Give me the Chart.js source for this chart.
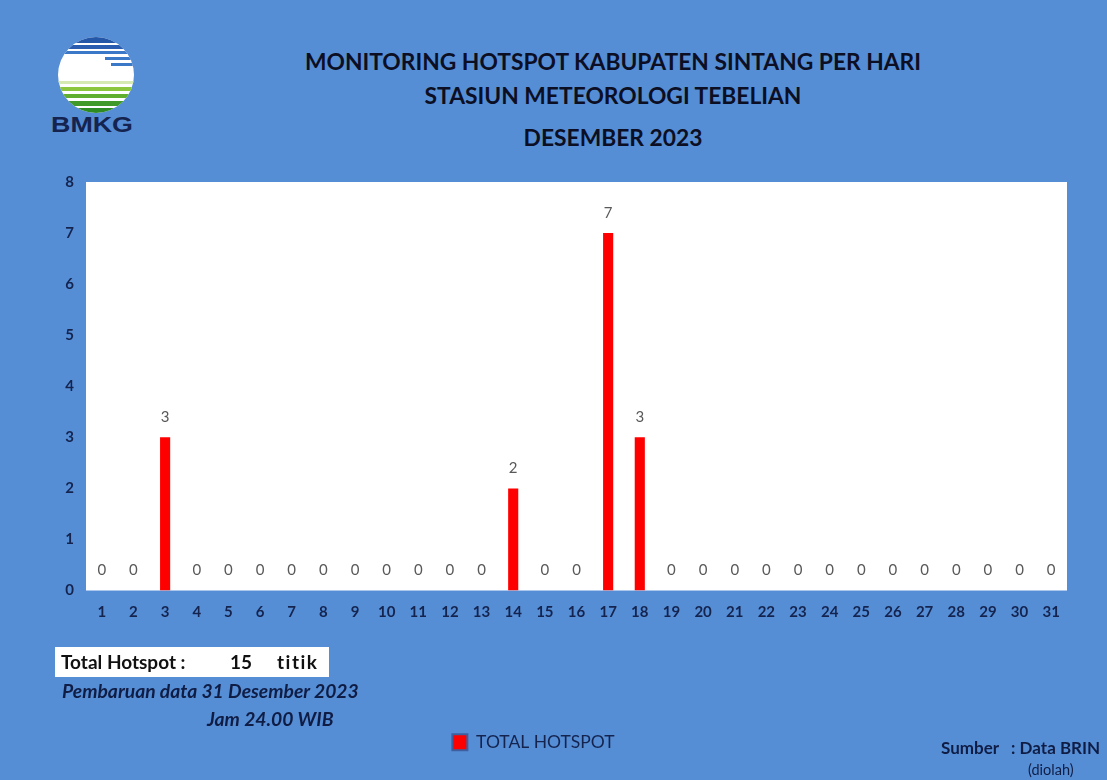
<!DOCTYPE html>
<html>
<head>
<meta charset="utf-8">
<script src="https://cdn.jsdelivr.net/npm/chart.js@4.4.0/dist/chart.umd.min.js"></script>
<style>
  html, body { margin: 0; padding: 0; }
  body { width: 1107px; height: 780px; background: #568ed6; position: relative; overflow: hidden; font-family: Lato, "Open Sans", sans-serif; }
  .abs { position: absolute; white-space: nowrap; }
  .title { left: 0; width: 1226px; text-align: center; font-weight: bold; font-size: 22.8px; color: #0c0f24; }
  #wrap { position: absolute; left: 0; top: 161px; width: 1107px; height: 620px; }
  #totalBox { left: 55px; top: 647px; width: 274px; height: 30px; background: #fff; font-weight: bold; font-size: 19px; color: #111; line-height: 30px; }
  #totalBox span { position: absolute; top: 0; }
  .note { font-style: italic; font-weight: bold; font-size: 19.3px; color: #0f1d45; }
</style>
</head>
<body>

<svg class="abs" style="left:57px;top:37px" width="78" height="77" viewBox="0 0 78 77">
  <defs><clipPath id="c"><circle cx="39" cy="38" r="38"/></clipPath></defs>
  <g clip-path="url(#c)">
    <rect x="0" y="0" width="78" height="77" fill="#ffffff"/>
    <rect x="0" y="0" width="78" height="6" fill="#2457a8"/>
    <rect x="0" y="8" width="78" height="4" fill="#2a5db0"/>
    <rect x="0" y="14" width="78" height="3" fill="#3b78c8"/>
    <rect x="48" y="20" width="30" height="3" fill="#3b78c8"/>
    <rect x="54" y="26" width="24" height="3" fill="#3b78c8"/>
    <rect x="0" y="44" width="78" height="3" fill="#d6e9b3"/>
    <rect x="0" y="50" width="78" height="4" fill="#8cc63f"/>
    <rect x="0" y="57" width="78" height="4" fill="#5fae2e"/>
    <rect x="0" y="64" width="78" height="5" fill="#3f9a2a"/>
    <rect x="0" y="71" width="78" height="6" fill="#2e8b24"/>
  </g>
</svg>
<div class="abs" style="left:51px;top:112px;font-family:'Liberation Sans',Arial,sans-serif;font-weight:bold;font-size:22px;color:#15234f;transform:scaleX(1.22);transform-origin:left top">BMKG</div>

<div class="abs title" style="top:47px">MONITORING HOTSPOT KABUPATEN SINTANG PER HARI</div>
<div class="abs title" style="top:81px">STASIUN METEOROLOGI TEBELIAN</div>
<div class="abs title" style="top:123px">DESEMBER 2023</div>

<div id="wrap"><canvas id="chart"></canvas></div>

<div class="abs" id="totalBox"><span style="left:6px">Total Hotspot :</span><span id="totalNum" style="left:175px"></span><span style="left:222px;letter-spacing:1.5px">titik</span></div>
<div class="abs note" style="left:62px;top:679px">Pembaruan data 31 Desember 2023</div>
<div class="abs note" style="left:207px;top:707px">Jam 24.00 WIB</div>
<div class="abs" style="left:941px;top:737px;font-weight:bold;font-size:17px;color:#0f1d45">Sumber&nbsp;&nbsp;&nbsp;: Data BRIN</div>
<div class="abs" style="left:1028px;top:761px;font-size:14.5px;color:#0f1d45">(diolah)</div>

<script>
const days = ['1','2','3','4','5','6','7','8','9','10','11','12','13','14','15','16','17','18','19','20','21','22','23','24','25','26','27','28','29','30','31'];
const hotspots = [0,0,3,0,0,0,0,0,0,0,0,0,0,2,0,0,7,3,0,0,0,0,0,0,0,0,0,0,0,0,0];
const yTicks = [0,1,2,3,4,5,6,7,8];

const total = hotspots.reduce((a, b) => a + b, 0);
document.getElementById('totalNum').textContent = total;

const axisColor = '#14244f';
const tickFont = { family: 'Lato, "Open Sans", sans-serif', size: 15, weight: 'bold' };

// nilai di atas batang
const valueLabels = {
  id: 'valueLabels',
  afterDatasetsDraw(chart) {
    const ctx = chart.ctx;
    const meta = chart.getDatasetMeta(0);
    ctx.save();
    ctx.fillStyle = '#595959';
    ctx.font = '15px Lato, "Open Sans", sans-serif';
    ctx.textAlign = 'center';
    ctx.textBaseline = 'middle';
    meta.data.forEach((bar, i) => {
      ctx.fillText(String(hotspots[i]), bar.x, bar.y - 20);
    });
    ctx.restore();
  }
};

// area plot putih
const plotBg = {
  id: 'plotBg',
  beforeDraw(chart) {
    const a = chart.chartArea;
    chart.ctx.save();
    chart.ctx.fillStyle = '#ffffff';
    chart.ctx.fillRect(a.left, a.top, a.right - a.left, a.bottom - a.top);
    chart.ctx.restore();
  }
};

new Chart(document.getElementById('chart'), {
  type: 'bar',
  data: {
    labels: days,
    datasets: [{
      label: 'TOTAL HOTSPOT',
      data: hotspots,
      backgroundColor: '#ff0000',
      borderWidth: 0,
      barPercentage: 0.32,
      categoryPercentage: 1
    }]
  },
  options: {
    responsive: true,
    maintainAspectRatio: false,
    animation: false,
    layout: { padding: { top: 12, right: 40, left: 0, bottom: 20 } },
    plugins: {
      legend: {
        position: 'bottom',
        labels: {
          color: axisColor,
          font: { family: 'Lato, "Open Sans", sans-serif', size: 17.5 },
          boxWidth: 15,
          boxHeight: 16,
          padding: 6,
          generateLabels: () => [{
            text: 'TOTAL HOTSPOT',
            fillStyle: '#ff0000',
            strokeStyle: '#3d5f9e',
            lineWidth: 2,
            fontColor: axisColor,
            datasetIndex: 0
          }]
        }
      },
      tooltip: { enabled: false }
    },
    scales: {
      x: {
        grid: { display: false, drawTicks: false },
        border: { display: false },
        ticks: { color: axisColor, font: tickFont, padding: 13, maxRotation: 0, autoSkip: false },
        afterFit: (s) => { s.height = 137; }
      },
      y: {
        min: 0,
        max: 8,
        afterBuildTicks: (s) => { s.ticks = yTicks.map(v => ({ value: v })); },
        grid: { display: false, drawTicks: false },
        border: { display: false },
        ticks: { color: axisColor, font: tickFont, padding: 12 },
        afterFit: (s) => { s.width = 86; }
      }
    }
  },
  plugins: [plotBg, valueLabels]
});
</script>
</body>
</html>
